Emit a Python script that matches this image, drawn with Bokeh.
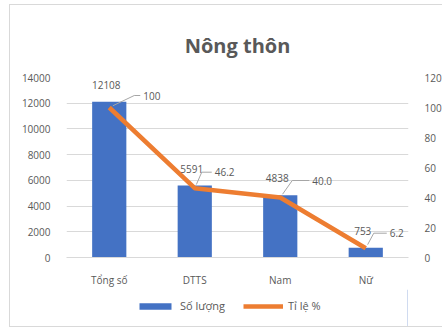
import numpy as np
from bokeh.plotting import figure
from bokeh.layouts import column
from bokeh.models import Range1d, LinearAxis, FixedTicker, Legend, LegendItem
from bokeh.core.properties import value
from bokeh.embed import file_html
from bokeh.resources import INLINE

# ---- data ----
categories = ["Tổng số", "DTTS", "Nam", "Nữ"]
so_luong = [12108, 5591, 4838, 753]
ti_le = [100, 46.2, 40.0, 6.2]
ti_le_labels = ["100", "46.2", "40.0", "6.2"]
left_ticks = [0, 2000, 4000, 6000, 8000, 10000, 12000, 14000]
right_ticks = [0, 20, 40, 60, 80, 100, 120]

# ---- layout constants (pixels) ----
FW, FH = 342, 180
MB_L, MB_R, MB_T, MB_B = 56, 35, 72, 30
W = MB_L + FW + MB_R
pct_label_dx = [34, 20, 32, 24]
pct_label_dy = [-12, -16, -17, -15]
knee_dx = [25, 7, 12, 8]

GRAY = "#595959"
FONT = "Open Sans"
BLUE = "#4472C4"
ORANGE = "#ED7D31"

n = len(categories)
xs = list(np.arange(n) + 0.5)
px_x = FW / n
px_y = FH / right_ticks[-1]

p = figure(frame_width=FW, frame_height=FH,
           x_range=Range1d(0, n), y_range=Range1d(left_ticks[0], left_ticks[-1]),
           output_backend="svg", toolbar_location=None,
           min_border_left=MB_L, min_border_right=MB_R,
           min_border_top=MB_T, min_border_bottom=MB_B)
p.extra_y_ranges = {"pct": Range1d(right_ticks[0], right_ticks[-1])}
p.outline_line_color = None
p.background_fill_color = "white"
p.border_fill_color = "white"
p.margin = 0

p.title.text = "Nông thôn"
p.title.align = "center"
p.title.text_font = FONT
p.title.text_font_size = "20px"
p.title.text_font_style = "bold"
p.title.text_color = GRAY
p.title.standoff = 37

# axes
xa = p.xaxis[0]
xa.ticker = FixedTicker(ticks=xs)
xa.major_label_overrides = {x: c for x, c in zip(xs, categories)}
xa.axis_line_color = "#D9D9D9"
xa.major_tick_line_color = None
xa.minor_tick_line_color = None
xa.major_label_text_font = FONT
xa.major_label_text_font_size = "10px"
xa.major_label_text_color = GRAY
xa.major_label_standoff = 9

ya = p.yaxis[0]
ya.ticker = FixedTicker(ticks=left_ticks)
ya.axis_line_color = None
ya.major_tick_line_color = None
ya.minor_tick_line_color = None
ya.major_label_text_font = FONT
ya.major_label_text_font_size = "10px"
ya.major_label_text_color = GRAY
ya.major_label_standoff = 10

ra = LinearAxis(y_range_name="pct", ticker=FixedTicker(ticks=right_ticks))
ra.axis_line_color = None
ra.major_tick_line_color = None
ra.minor_tick_line_color = None
ra.major_label_text_font = FONT
ra.major_label_text_font_size = "10px"
ra.major_label_text_color = GRAY
ra.major_label_standoff = 10
p.add_layout(ra, "right")

p.xgrid.grid_line_color = None
p.ygrid.ticker = FixedTicker(ticks=left_ticks)
p.ygrid.grid_line_color = "#D9D9D9"

# glyphs
bars = p.vbar(x=xs, top=so_luong, width=0.4, fill_color=BLUE, line_color=None)
line = p.line(x=xs, y=ti_le, y_range_name="pct", line_color=ORANGE,
              line_width=4.5, line_join="round")

# leader lines
lx, ly = [], []
for i in range(n):
    kx, ky = knee_dx[i], pct_label_dy[i]
    d = (kx ** 2 + ky ** 2) ** 0.5
    gx, gy = 4 * kx / d, 4 * ky / d
    ex = pct_label_dx[i] - 3
    lx.append([xs[i] + gx / px_x, xs[i] + kx / px_x, xs[i] + ex / px_x])
    ly.append([ti_le[i] - gy / px_y, ti_le[i] - ky / px_y, ti_le[i] - ky / px_y])
p.multi_line(xs=lx, ys=ly, y_range_name="pct", line_color="#A6A6A6", line_width=1)

# data labels
p.text(x=xs, y=so_luong, text=[str(v) for v in so_luong], x_offset=-3, y_offset=-17,
       text_align="center", text_baseline="middle", text_font=value(FONT),
       text_font_size="10px", text_color=GRAY)
p.text(x=xs, y=ti_le, y_range_name="pct", text=ti_le_labels,
       x_offset=pct_label_dx, y_offset=pct_label_dy,
       text_align="left", text_baseline="middle", text_font=value(FONT),
       text_font_size="10px", text_color=GRAY)

# ---- legend strip (separate small figure with same-styled renderers) ----
lp = figure(width=W, height=37, x_range=Range1d(0, 1), y_range=Range1d(0, 1),
            output_backend="svg", toolbar_location=None,
            x_axis_location=None, y_axis_location=None,
            min_border=0, margin=0)
lp.grid.visible = False
lp.outline_line_color = None
lp.border_fill_color = "white"
lp.background_fill_color = "white"
# renderers whose data lies outside the strip's range: only their legend swatches show
lb = lp.vbar(x=[5], top=[1], width=0.1, fill_color=BLUE, line_color=None)
ll = lp.line(x=[5, 6], y=[0.5, 0.5], line_color=ORANGE, line_width=4.5)

legend = Legend(items=[LegendItem(label="Số lượng", renderers=[lb]),
                       LegendItem(label="Tỉ lệ %", renderers=[ll])],
                orientation="horizontal", location=(69, 13))
legend.border_line_color = None
legend.background_fill_alpha = 0
legend.label_text_font = FONT
legend.label_text_font_size = "11px"
legend.label_text_color = GRAY
legend.glyph_width = 40
legend.glyph_height = 8
legend.label_standoff = 5
legend.spacing = 18
legend.margin = 0
legend.padding = 5
lp.add_layout(legend)

layout = column(p, lp, spacing=0, margin=(4, 0, 0, 9),
                styles={"border": "1px solid #D9D9D9", "background": "white"})

open("out.html", "w").write(file_html(layout, INLINE))
